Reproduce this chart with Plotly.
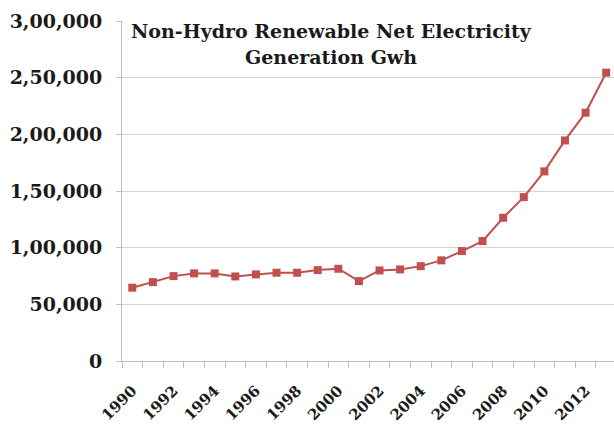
import plotly.graph_objects as go

years = list(range(1990, 2014))
generation_gwh = [64700, 69600, 74900, 77300, 77300, 74600, 76400, 77900, 77900,
                  80200, 81400, 70500, 79900, 80800, 83700, 88800, 97000, 105800,
                  126400, 144600, 167300, 194600, 219100, 254400]
y_tick_vals = [0, 50000, 100000, 150000, 200000, 250000, 300000]
y_tick_text = ["0", "50,000", "1,00,000", "1,50,000", "2,00,000", "2,50,000", "3,00,000"]
x_tick_vals = list(range(1990, 2013, 2))
title_lines = ["Non-Hydro Renewable Net Electricity", "Generation Gwh"]

FONT = "DejaVu Serif"
RED = "#c0504d"
GRID = "#d4d4d4"
AXIS = "#bfbfbf"

fig = go.Figure()
fig.add_trace(go.Scatter(
    x=years, y=generation_gwh, mode="lines+markers",
    line=dict(color=RED, width=2),
    marker=dict(symbol="square", size=8, color=RED),
    showlegend=False, hoverinfo="skip",
))

fig.update_layout(
    width=614, height=425,
    margin=dict(l=122, r=0, t=21, b=64, pad=0),
    paper_bgcolor="white", plot_bgcolor="white",
    font=dict(family=FONT, color="#1a1a1a"),
    xaxis=dict(
        range=[1989.5, 2013.38],
        tickmode="array", tickvals=x_tick_vals,
        ticktext=[str(v) for v in x_tick_vals],
        tickangle=-45, ticks="",
        tickfont=dict(family=FONT, size=15, color="#1a1a1a", weight="bold"),
        showgrid=False, zeroline=False, automargin=False,
        showline=True, linecolor=AXIS, linewidth=1,
        ticklabelstandoff=14,
        minor=dict(tick0=1989.5, dtick=1, ticks="outside", ticklen=6,
                   tickcolor=AXIS, tickwidth=1, showgrid=False),
    ),
    yaxis=dict(
        range=[0, 300000],
        tickmode="array", tickvals=y_tick_vals, ticktext=y_tick_text,
        ticks="outside", ticklen=5, tickcolor=AXIS,
        tickfont=dict(family=FONT, size=19, color="#1a1a1a", weight="bold"),
        showgrid=True, gridcolor=GRID, gridwidth=1,
        zeroline=False, showline=True, linecolor=AXIS, linewidth=1,
        ticklabelstandoff=10, automargin=False,
    ),
    annotations=[
        dict(x=0.425, y=0.97, xref="paper", yref="paper", xanchor="center", yanchor="middle",
             text=title_lines[0], showarrow=False,
             font=dict(family=FONT, size=19, color="#1a1a1a", weight="bold")),
        dict(x=0.425, y=0.895, xref="paper", yref="paper", xanchor="center", yanchor="middle",
             text=title_lines[1], showarrow=False,
             font=dict(family=FONT, size=19, color="#1a1a1a", weight="bold")),
    ],
)

fig.write_html("out.html")
